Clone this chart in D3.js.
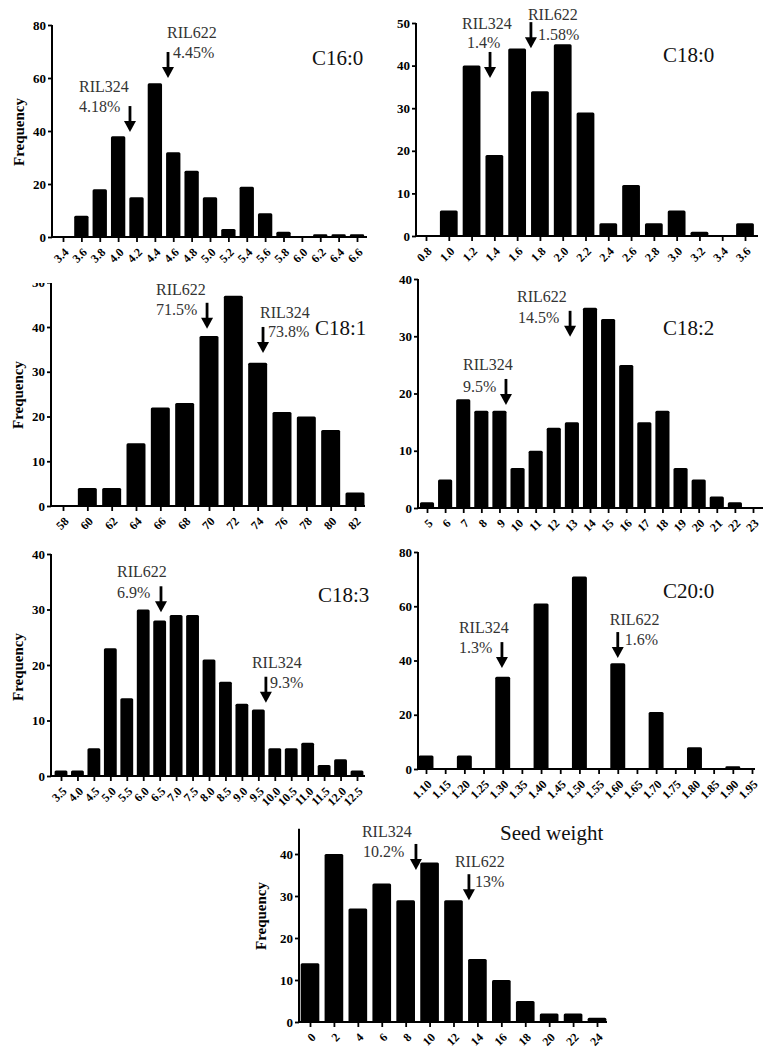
<!DOCTYPE html>
<html><head><meta charset="utf-8">
<script src="https://cdn.jsdelivr.net/npm/d3@7"></script>
<style>body{margin:0;background:#fff}svg{display:block}</style>
</head><body>
<svg id="chart" width="773" height="1055"></svg>
<script>
// ---------------- DATA ----------------
const c160Bins = [3.4,3.6,3.8,4.0,4.2,4.4,4.6,4.8,5.0,5.2,5.4,5.6,5.8,6.0,6.2,6.4,6.6];
const c160Counts = [0,8,18,38,15,58,32,25,15,3,19,9,2,0,1,1,1];
const c180Bins = [0.8,1.0,1.2,1.4,1.6,1.8,2.0,2.2,2.4,2.6,2.8,3.0,3.2,3.4,3.6];
const c180Counts = [0,6,40,19,44,34,45,29,3,12,3,6,1,0,3];
const c181Bins = [58,60,62,64,66,68,70,72,74,76,78,80,82];
const c181Counts = [0,4,4,14,22,23,38,47,32,21,20,17,3];
const c182Bins = [5,6,7,8,9,10,11,12,13,14,15,16,17,18,19,20,21,22,23];
const c182Counts = [1,5,19,17,17,7,10,14,15,35,33,25,15,17,7,5,2,1,0];
const c183Bins = [3.5,4.0,4.5,5.0,5.5,6.0,6.5,7.0,7.5,8.0,8.5,9.0,9.5,10.0,10.5,11.0,11.5,12.0,12.5];
const c183Counts = [1,1,5,23,14,30,28,29,29,21,17,13,12,5,5,6,2,3,1];
const c200Bins = [1.10,1.15,1.20,1.25,1.30,1.35,1.40,1.45,1.50,1.55,1.60,1.65,1.70,1.75,1.80,1.85,1.90,1.95];
const c200Counts = [5,0,5,0,34,0,61,0,71,0,39,0,21,0,8,0,1,0];
const seedBins = [0,2,4,6,8,10,12,14,16,18,20,22,24];
const seedCounts = [14,40,27,33,29,38,29,15,10,5,2,2,1];

const panelTitles = ["C16:0","C18:0","C18:1","C18:2","C18:3","C20:0","Seed weight"];
const yTickValues = [[0,20,40,60,80],[0,10,20,30,40,50],[0,10,20,30,40,50],[0,10,20,30,40],[0,10,20,30,40],[0,20,40,60,80],[0,10,20,30,40]];
const tickFormats = [".1f",".1f","d","d",".1f",".2f","d"];

// parent-line annotations: name, value label, arrow position (x in bin units), arrow tip (frequency)
const annNames  = [["RIL622","RIL324"],["RIL324","RIL622"],["RIL622","RIL324"],["RIL622","RIL324"],["RIL622","RIL324"],["RIL324","RIL622"],["RIL324","RIL622"]];
const annValues = [["4.45%","4.18%"],["1.4%","1.58%"],["71.5%","73.8%"],["14.5%","9.5%"],["6.9%","9.3%"],["1.3%","1.6%"],["10.2%","13%"]];
const annArrowX = [[4.543,4.129],[1.362,1.721],[69.84,74.44],[12.9,9.36],[6.54,9.73],[1.298,1.600],[8.86,13.29]];
const annTipF   = [[60,39.6],[37.1,44.1],[39.6,34.2],[29.9,18],[29.5,13.2],[37.2,40.9],[36.2,29]];

// ---------------- LAYOUT (pixels) ----------------
const layout = [
  {bins:c160Bins,counts:c160Counts,left:52,firstX:63,lastX:357,right:367,zeroY:237,refY:25,refV:80,axisTop:80,freq:[19,132],title:[312,65],clipTop:0,
   txt:[[[-1,-40],[5,-20]],[[-51,-40],[-51,-20]]]},
  {bins:c180Bins,counts:c180Counts,left:416,firstX:426,lastX:745,right:758,zeroY:236,refY:23,refV:50,axisTop:50,freq:null,title:[663,62],clipTop:0,
   txt:[[[-28,-49],[-23,-30]],[[-3,-28],[7,-8]]]},
  {bins:c181Bins,counts:c181Counts,left:51,firstX:63,lastX:355,right:365,zeroY:506,refY:327,refV:40,axisTop:50,freq:[18,395],title:[315,335],clipTop:283,
   txt:[[[-51,-34],[-51,-14]],[[-3,-35],[5,-16]]]},
  {bins:c182Bins,counts:c182Counts,left:418,firstX:427,lastX:753,right:763,zeroY:508,refY:279,refV:40,axisTop:40,freq:null,title:[663,335],clipTop:0,
   txt:[[[-53,-35],[-52,-14]],[[-43,-35],[-43,-13]]]},
  {bins:c183Bins,counts:c183Counts,left:51,firstX:61,lastX:357,right:365,zeroY:776,refY:554,refV:40,axisTop:40,freq:[18,667],title:[318,602],clipTop:0,
   txt:[[[-44,-35],[-44,-14]],[[-14,-35],[4,-15]]]},
  {bins:c200Bins,counts:c200Counts,left:418,firstX:426,lastX:752,right:755,zeroY:769,refY:552,refV:80,axisTop:80,freq:null,title:[663,598],clipTop:0,
   txt:[[[-43,-35],[-43,-15]],[[-8,-33],[7,-13]]]},
  {bins:seedBins,counts:seedCounts,left:299,firstX:310,lastX:597,right:607,zeroY:1022,refY:854,refV:40,axisTop:46,freq:[261,916],title:[500,840],clipTop:0,
   txt:[[[-54,-33],[-53,-13]],[[-14,-33],[6,-13]]]}
];

const svg = d3.select("#chart");
const FONT = "'Liberation Serif','Times New Roman',serif";
const defs = svg.append("defs");

layout.forEach((p, i) => {
  let g = svg.append("g");
  if (p.clipTop) {
    defs.append("clipPath").attr("id","clip"+i).append("rect")
      .attr("x",0).attr("y",p.clipTop).attr("width",773).attr("height",1055);
    g.attr("clip-path","url(#clip"+i+")");
  }
  const n = p.bins.length;
  const x = d3.scaleLinear().domain([p.bins[0], p.bins[n-1]]).range([p.firstX, p.lastX]);
  const y = d3.scaleLinear().domain([0, p.refV]).range([p.zeroY, p.refY]);
  const step = (p.lastX - p.firstX) / (n - 1);
  const bw = step * 0.78;

  // bars
  g.selectAll("rect.bar").data(p.bins.map((b,k)=>({b, c:p.counts[k]})))
    .join("rect").attr("class","bar")
    .attr("x", d => x(d.b) - bw/2)
    .attr("y", d => y(d.c))
    .attr("width", bw)
    .attr("height", d => Math.max(0, y(0) - y(d.c)))
    .attr("rx", 1.5)
    .attr("fill", "#000");

  // x axis
  const xa = g.append("g").attr("transform", `translate(0,${p.zeroY})`)
    .call(d3.axisBottom(x).tickValues(p.bins).tickFormat(d3.format(tickFormats[i])).tickSize(5).tickSizeOuter(0));
  xa.select(".domain").remove();
  xa.selectAll(".tick line").attr("stroke","#000").attr("stroke-width",1.8);
  xa.selectAll(".tick text")
    .attr("x",0).attr("y",0).attr("dy","0.35em")
    .attr("text-anchor","end")
    .attr("transform","translate(3,13) rotate(-45)")
    .attr("font-family",FONT).attr("font-weight","bold").attr("font-size",12).attr("fill","#000");
  g.append("line").attr("x1",p.left-1).attr("x2",p.right).attr("y1",p.zeroY).attr("y2",p.zeroY)
    .attr("stroke","#000").attr("stroke-width",2);

  // y axis
  const ya = g.append("g").attr("transform", `translate(${p.left},0)`)
    .call(d3.axisLeft(y).tickValues(yTickValues[i]).tickFormat(d3.format("d")).tickSize(4).tickPadding(2).tickSizeOuter(0));
  ya.select(".domain").remove();
  ya.selectAll(".tick line").attr("stroke","#000").attr("stroke-width",1.8);
  ya.selectAll(".tick text").attr("font-family",FONT).attr("font-weight","bold").attr("font-size",13).attr("fill","#000");
  g.append("line").attr("x1",p.left).attr("x2",p.left).attr("y1",y(p.axisTop)).attr("y2",p.zeroY+1)
    .attr("stroke","#000").attr("stroke-width",2);

  // Frequency label
  if (p.freq) {
    g.append("text").attr("transform",`translate(${p.freq[0]},${p.freq[1]}) rotate(-90)`)
      .attr("text-anchor","middle").attr("dy","0.35em")
      .attr("font-family",FONT).attr("font-weight","bold").attr("font-size",15).attr("fill","#000")
      .text("Frequency");
  }

  // title
  g.append("text").attr("x",p.title[0]).attr("y",p.title[1])
    .attr("font-family",FONT).attr("font-size",21).attr("fill","#111")
    .text(panelTitles[i]);

  // annotations
  annNames[i].forEach((nm, k) => {
    const ax = x(annArrowX[i][k]);
    const ty = y(annTipF[i][k]);
    g.append("line").attr("x1",ax).attr("x2",ax).attr("y1",ty-26).attr("y2",ty-9)
      .attr("stroke","#000").attr("stroke-width",2.8);
    g.append("path").attr("d",`M${ax-6},${ty-11}L${ax+6},${ty-11}L${ax},${ty}Z`).attr("fill","#000");
    const t = p.txt[k];
    g.append("text").attr("x",ax+t[0][0]).attr("y",ty+t[0][1])
      .attr("font-family",FONT).attr("font-size",16).attr("fill","#333").text(nm);
    g.append("text").attr("x",ax+t[1][0]).attr("y",ty+t[1][1])
      .attr("font-family",FONT).attr("font-size",16).attr("fill","#333").text(annValues[i][k]);
  });
});
</script>
</body></html>
